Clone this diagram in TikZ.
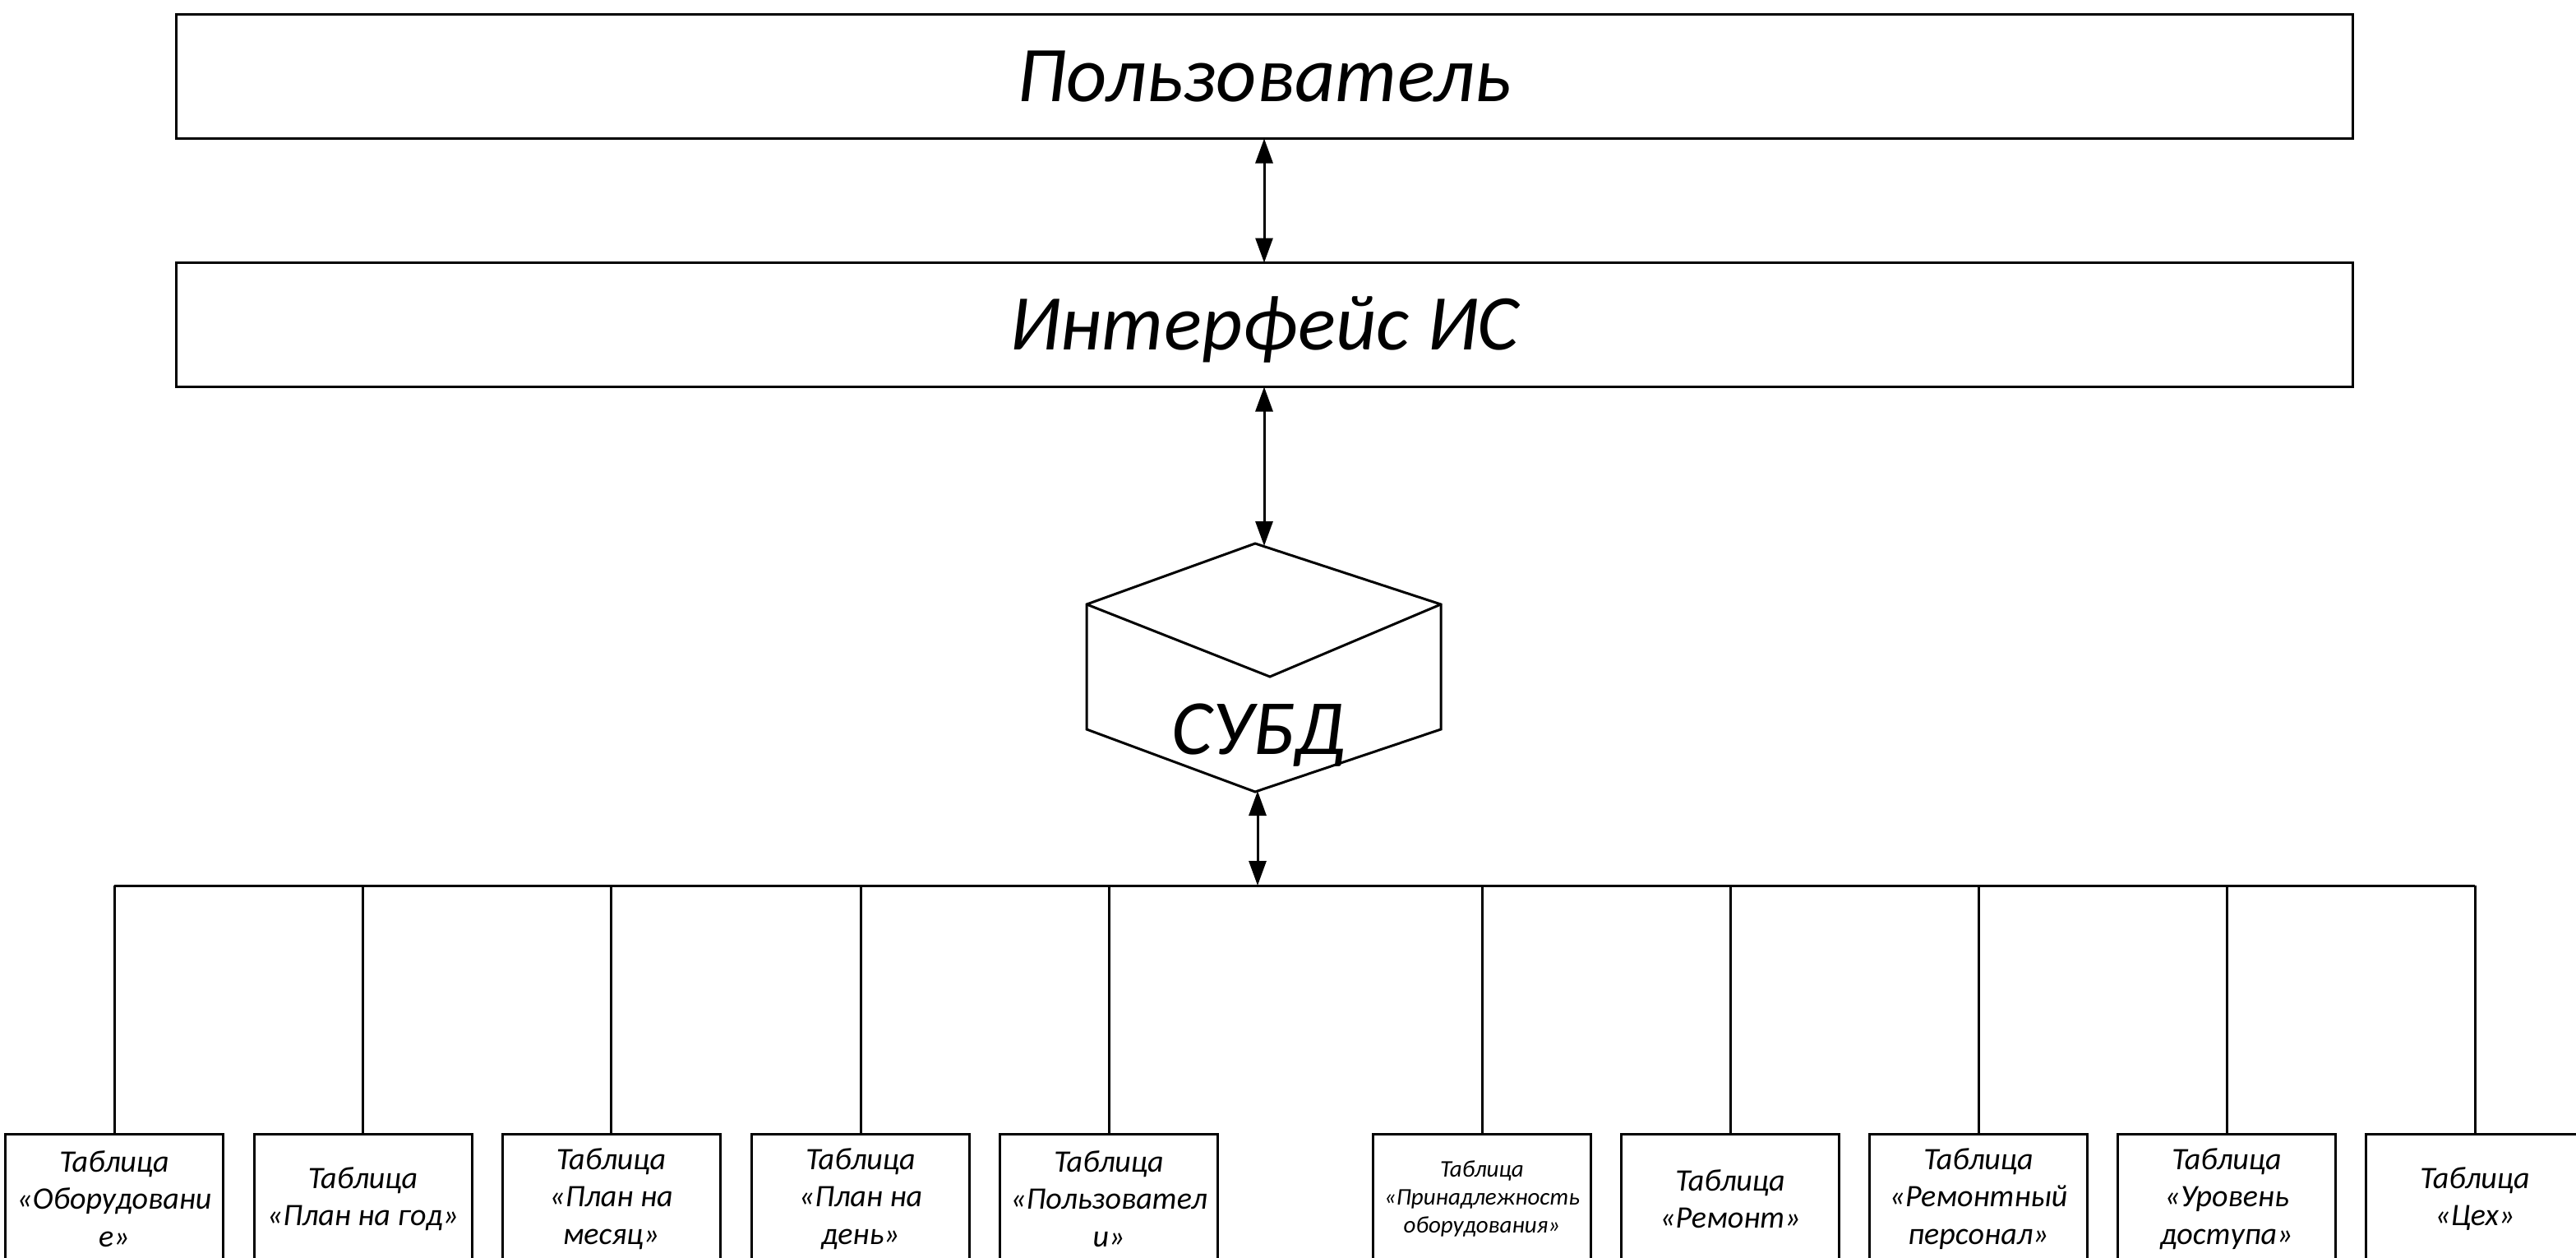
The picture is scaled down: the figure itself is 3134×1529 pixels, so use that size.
\documentclass[tikz,border=0pt]{standalone}
\usepackage{fontspec}
\setmainfont{Carlito}
\usetikzlibrary{arrows.meta}

\begin{document}
\begin{tikzpicture}[x=1pt,y=-1pt,
  line width=3pt,
  bigbox/.style={draw, rectangle, inner sep=0pt, outer sep=0pt,
    minimum width=2648pt, minimum height=151pt,
    font=\fontsize{96}{115}\selectfont\itshape,
    text height=60pt, text depth=0pt},
  tablebox/.style={draw, rectangle, inner sep=0pt, outer sep=0pt,
    minimum width=265pt, minimum height=158pt, anchor=north,
    align=center, font=\fontsize{38}{45.5}\selectfont\itshape},
  smalltext/.style={font=\fontsize{29}{34}\selectfont\itshape},
  biarrow/.style={{Triangle[length=30pt,width=21pt]}-{Triangle[length=30pt,width=21pt]}, line width=3pt}
]
\useasboundingbox (0,0) rectangle (3134,1529);

% upper layers
\node[bigbox] (user) at (1538,93) {Пользователь};
\node[bigbox] (ui) at (1538,395) {Интерфейс ИС};

% DBMS block
\coordinate (dbA) at (1527,661);
\coordinate (dbL) at (1322,735);
\coordinate (dbR) at (1753,735);
\coordinate (dbV) at (1545,823);
\coordinate (dbLL) at (1322,887);
\coordinate (dbRR) at (1753,887);
\coordinate (dbB) at (1527,963);
\draw[line join=miter] (dbL) -- (dbA) -- (dbR) -- (dbRR) -- (dbB) -- (dbLL) -- cycle;
\draw (dbL) -- (dbV) -- (dbR);
\node[anchor=base, inner sep=0pt, font=\fontsize{95}{114}\selectfont\itshape] (dbms) at (1531,917) {СУБД};

\coordinate (dbtop) at (1538,664);
\coordinate (dbbot) at (1530,962);

% bus
\coordinate (busL) at (139,1077);
\coordinate (busR) at (3011,1077);
\coordinate (busC) at (1530,1077);

% tables
\node[tablebox] (t1) at (139,1379) {Таблица\\«Оборудовани\\е»};
\node[tablebox] (t2) at (441.5,1379) {Таблица\\«План на год»};
\node[tablebox] (t3) at (743.5,1379) {Таблица\\«План на\\месяц»};
\node[tablebox] (t4) at (1047,1379) {Таблица\\«План на\\день»};
\node[tablebox] (t5) at (1349,1379) {Таблица\\«Пользовател\\и»};
\node[tablebox, smalltext] (t6) at (1803,1379) {Таблица\\«Принадлежность\\оборудования»};
\node[tablebox] (t7) at (2105,1379) {Таблица\\«Ремонт»};
\node[tablebox] (t8) at (2407,1379) {Таблица\\«Ремонтный\\персонал»};
\node[tablebox] (t9) at (2709,1379) {Таблица\\«Уровень\\доступа»};
\node[tablebox] (t10) at (3011,1379) {Таблица\\«Цех»};

% connectors
\draw[biarrow] (user.south) -- (ui.north);
\draw[biarrow] (ui.south) -- (dbtop);
\draw[biarrow] (dbbot) -- (busC);
\draw (busL) -- (busR);
\foreach \t in {t1,t2,t3,t4,t5,t6,t7,t8,t9,t10}
  \draw (\t.north |- busL) -- (\t.north);
\end{tikzpicture}
\end{document}
